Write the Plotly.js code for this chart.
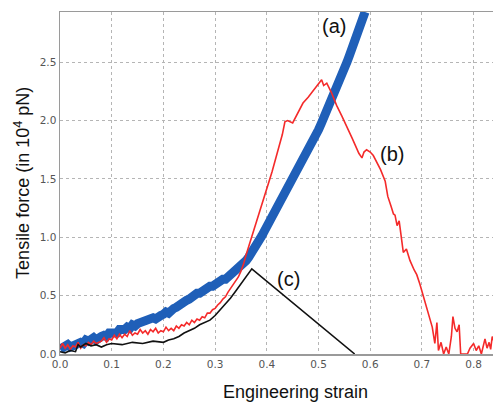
<!DOCTYPE html>
<html>
<head>
<meta charset="utf-8">
<script src="https://cdn.plot.ly/plotly-3.0.1.min.js"></script>
<style>html,body{margin:0;padding:0;background:#fff;}#chart{width:493px;height:403px;}</style>
</head>
<body>
<div id="chart"></div>
<script>
// (a) blue curve
const strainA = [0, 0.005, 0.01, 0.015, 0.02, 0.025, 0.03, 0.035, 0.04, 0.045, 0.05, 0.055, 0.06, 0.065, 0.07, 0.075, 0.08, 0.085, 0.09, 0.095, 0.10, 0.105, 0.11, 0.115, 0.12, 0.125, 0.13, 0.135, 0.14, 0.145, 0.15, 0.155, 0.16, 0.165, 0.17, 0.175, 0.18, 0.185, 0.19, 0.195, 0.20, 0.205, 0.21, 0.215, 0.22, 0.225, 0.23, 0.235, 0.24, 0.245, 0.25, 0.255, 0.26, 0.265, 0.27, 0.275, 0.28, 0.285, 0.29, 0.295, 0.30, 0.305, 0.31, 0.315, 0.32, 0.325, 0.33, 0.335, 0.34, 0.345, 0.35, 0.355, 0.36, 0.365, 0.37, 0.38, 0.385, 0.39, 0.395, 0.40, 0.405, 0.41, 0.415, 0.42, 0.425, 0.43, 0.435, 0.44, 0.445, 0.45, 0.455, 0.46, 0.465, 0.47, 0.475, 0.48, 0.485, 0.49, 0.495, 0.50, 0.505, 0.51, 0.515, 0.52, 0.525, 0.53, 0.535, 0.54, 0.545, 0.55, 0.555, 0.56, 0.565, 0.57, 0.575, 0.58, 0.585, 0.59];
const forceA  = [0.04, 0.06, 0.06, 0.08, 0.06, 0.07, 0.09, 0.08, 0.10, 0.09, 0.12, 0.11, 0.12, 0.14, 0.12, 0.15, 0.15, 0.16, 0.15, 0.18, 0.18, 0.19, 0.18, 0.21, 0.20, 0.21, 0.23, 0.22, 0.25, 0.24, 0.26, 0.27, 0.26, 0.29, 0.28, 0.29, 0.31, 0.30, 0.33, 0.33, 0.34, 0.36, 0.35, 0.38, 0.39, 0.40, 0.42, 0.42, 0.45, 0.46, 0.47, 0.49, 0.49, 0.52, 0.52, 0.54, 0.55, 0.56, 0.58, 0.58, 0.60, 0.61, 0.62, 0.64, 0.64, 0.66, 0.68, 0.68, 0.71, 0.72, 0.74, 0.77, 0.80, 0.83, 0.86, 0.93, 0.97, 1.01, 1.05, 1.09, 1.14, 1.18, 1.22, 1.27, 1.31, 1.35, 1.40, 1.44, 1.47, 1.51, 1.54, 1.57, 1.61, 1.65, 1.69, 1.74, 1.78, 1.83, 1.87, 1.92, 1.97, 2.02, 2.06, 2.11, 2.16, 2.22, 2.27, 2.33, 2.38, 2.44, 2.50, 2.56, 2.62, 2.68, 2.75, 2.81, 2.88, 2.93];

// (b) red curve
const strainB = [0, 0.005, 0.01, 0.015, 0.02, 0.025, 0.03, 0.035, 0.04, 0.045, 0.05, 0.055, 0.06, 0.065, 0.07, 0.075, 0.08, 0.085, 0.09, 0.095, 0.10, 0.105, 0.11, 0.115, 0.12, 0.125, 0.13, 0.135, 0.14, 0.145, 0.15, 0.155, 0.16, 0.165, 0.17, 0.175, 0.18, 0.185, 0.19, 0.195, 0.20, 0.205, 0.21, 0.215, 0.22, 0.225, 0.23, 0.235, 0.24, 0.245, 0.25, 0.255, 0.26, 0.265, 0.27, 0.275, 0.28, 0.285, 0.29, 0.295, 0.30, 0.305, 0.31, 0.315, 0.32, 0.325, 0.33, 0.335, 0.34, 0.345, 0.35, 0.355, 0.36, 0.37, 0.38, 0.39, 0.40, 0.41, 0.42, 0.43, 0.435, 0.44, 0.45, 0.455, 0.46, 0.47, 0.48, 0.49, 0.50, 0.506, 0.51, 0.516, 0.525, 0.535, 0.545, 0.555, 0.565, 0.571, 0.578, 0.584, 0.588, 0.593, 0.60, 0.606, 0.612, 0.62, 0.629, 0.634, 0.64, 0.645, 0.648, 0.652, 0.656, 0.66, 0.664, 0.67, 0.677, 0.685, 0.69, 0.696, 0.703, 0.71, 0.716, 0.72, 0.725, 0.729, 0.732, 0.737, 0.742, 0.747, 0.752, 0.757, 0.76, 0.764, 0.768, 0.772, 0.775, 0.788, 0.793, 0.80, 0.805, 0.81, 0.815, 0.822, 0.826, 0.83, 0.833, 0.836, 0.84];
const forceB  = [0.05, 0.09, 0.05, 0.08, 0.04, 0.07, 0.06, 0.10, 0.05, 0.08, 0.07, 0.10, 0.08, 0.11, 0.09, 0.10, 0.11, 0.14, 0.10, 0.13, 0.12, 0.16, 0.13, 0.17, 0.14, 0.17, 0.15, 0.20, 0.16, 0.18, 0.17, 0.21, 0.18, 0.20, 0.17, 0.21, 0.19, 0.22, 0.18, 0.20, 0.19, 0.23, 0.20, 0.22, 0.20, 0.24, 0.22, 0.25, 0.24, 0.27, 0.25, 0.29, 0.27, 0.30, 0.29, 0.32, 0.31, 0.35, 0.35, 0.38, 0.39, 0.42, 0.44, 0.47, 0.49, 0.53, 0.56, 0.59, 0.62, 0.66, 0.71, 0.77, 0.85, 0.99, 1.12, 1.26, 1.40, 1.56, 1.72, 1.88, 1.99, 2.00, 1.98, 2.02, 2.06, 2.15, 2.20, 2.26, 2.31, 2.35, 2.30, 2.32, 2.24, 2.13, 2.04, 1.95, 1.85, 1.79, 1.72, 1.68, 1.73, 1.75, 1.73, 1.70, 1.65, 1.58, 1.48, 1.35, 1.27, 1.20, 1.19, 1.10, 1.14, 1.00, 0.87, 0.90, 0.80, 0.72, 0.68, 0.60, 0.49, 0.38, 0.30, 0.23, 0.09, 0.27, 0.03, 0.10, 0.00, 0.06, 0.00, 0.15, 0.32, 0.22, 0.19, 0.25, 0.00, 0.00, 0.05, 0.09, 0.03, 0.07, 0.00, 0.13, 0.05, 0.10, 0.04, 0.15, 0.10];

// (c) black curve
const strainC = [0, 0.01, 0.02, 0.03, 0.035, 0.04, 0.05, 0.06, 0.07, 0.08, 0.09, 0.10, 0.12, 0.14, 0.16, 0.18, 0.20, 0.21, 0.22, 0.23, 0.24, 0.25, 0.26, 0.27, 0.28, 0.29, 0.30, 0.31, 0.32, 0.33, 0.34, 0.35, 0.36, 0.365, 0.371, 0.57];
const forceC  = [0.02, 0.01, 0.03, 0.02, 0.08, 0.06, 0.09, 0.07, 0.08, 0.06, 0.08, 0.09, 0.08, 0.10, 0.09, 0.11, 0.10, 0.12, 0.13, 0.15, 0.18, 0.20, 0.22, 0.25, 0.27, 0.29, 0.33, 0.38, 0.43, 0.48, 0.54, 0.60, 0.66, 0.70, 0.73, 0.00];

const curveLabels = ["(a)", "(b)", "(c)"];
const labelX = [0.530, 0.642, 0.442];
const labelY = [2.81, 1.715, 0.643];

const xTitle = "Engineering strain";
const yTitle = "Tensile force (in 10<sup>4</sup> pN)";

const traces = [
  {x: strainA, y: forceA, mode: 'lines', line: {color: '#1f5fb8', width: 9}, hoverinfo: 'none'},
  {x: strainB, y: forceB, mode: 'lines', line: {color: '#f42a2a', width: 1.6}, hoverinfo: 'none'},
  {x: strainC, y: forceC, mode: 'lines', line: {color: '#111111', width: 1.6}, hoverinfo: 'none'}
];

const annotations = curveLabels.map((t, i) => ({
  x: labelX[i], y: labelY[i], xref: 'x', yref: 'y', text: t, showarrow: false,
  font: {family: 'Liberation Sans, Arial', size: 20, color: '#111'}
}));
annotations.push({
  x: 0.545, y: -0.111, xref: 'paper', yref: 'paper', text: xTitle, showarrow: false,
  xanchor: 'center', yanchor: 'middle',
  font: {family: 'Liberation Sans, Arial', size: 18, color: '#111'}
});
annotations.push({
  x: -0.088, y: 0.5, xref: 'paper', yref: 'paper', text: yTitle, showarrow: false,
  textangle: -90, xanchor: 'center', yanchor: 'middle',
  font: {family: 'Liberation Sans, Arial', size: 18, color: '#111'}
});

const axisCommon = {
  showgrid: true, gridcolor: '#b5b5b5', griddash: 'dot', gridwidth: 1,
  zeroline: false, showline: true, linecolor: '#9a9a9a', linewidth: 1.5,
  ticks: '', tickformat: '.1f',
  tickfont: {family: 'DejaVu Sans', size: 10.5, color: '#555'}
};

const layout = {
  width: 493, height: 403,
  margin: {l: 60, r: 0, t: 12, b: 49},
  paper_bgcolor: '#fff', plot_bgcolor: '#fff',
  showlegend: false,
  xaxis: Object.assign({}, axisCommon, {range: [0, 0.8375], dtick: 0.1, tick0: 0, mirror: true}),
  yaxis: Object.assign({}, axisCommon, {range: [0, 2.93], dtick: 0.5, tick0: 0}),
  annotations: annotations
};

Plotly.newPlot('chart', traces, layout, {displayModeBar: false, staticPlot: true});
</script>
</body>
</html>
